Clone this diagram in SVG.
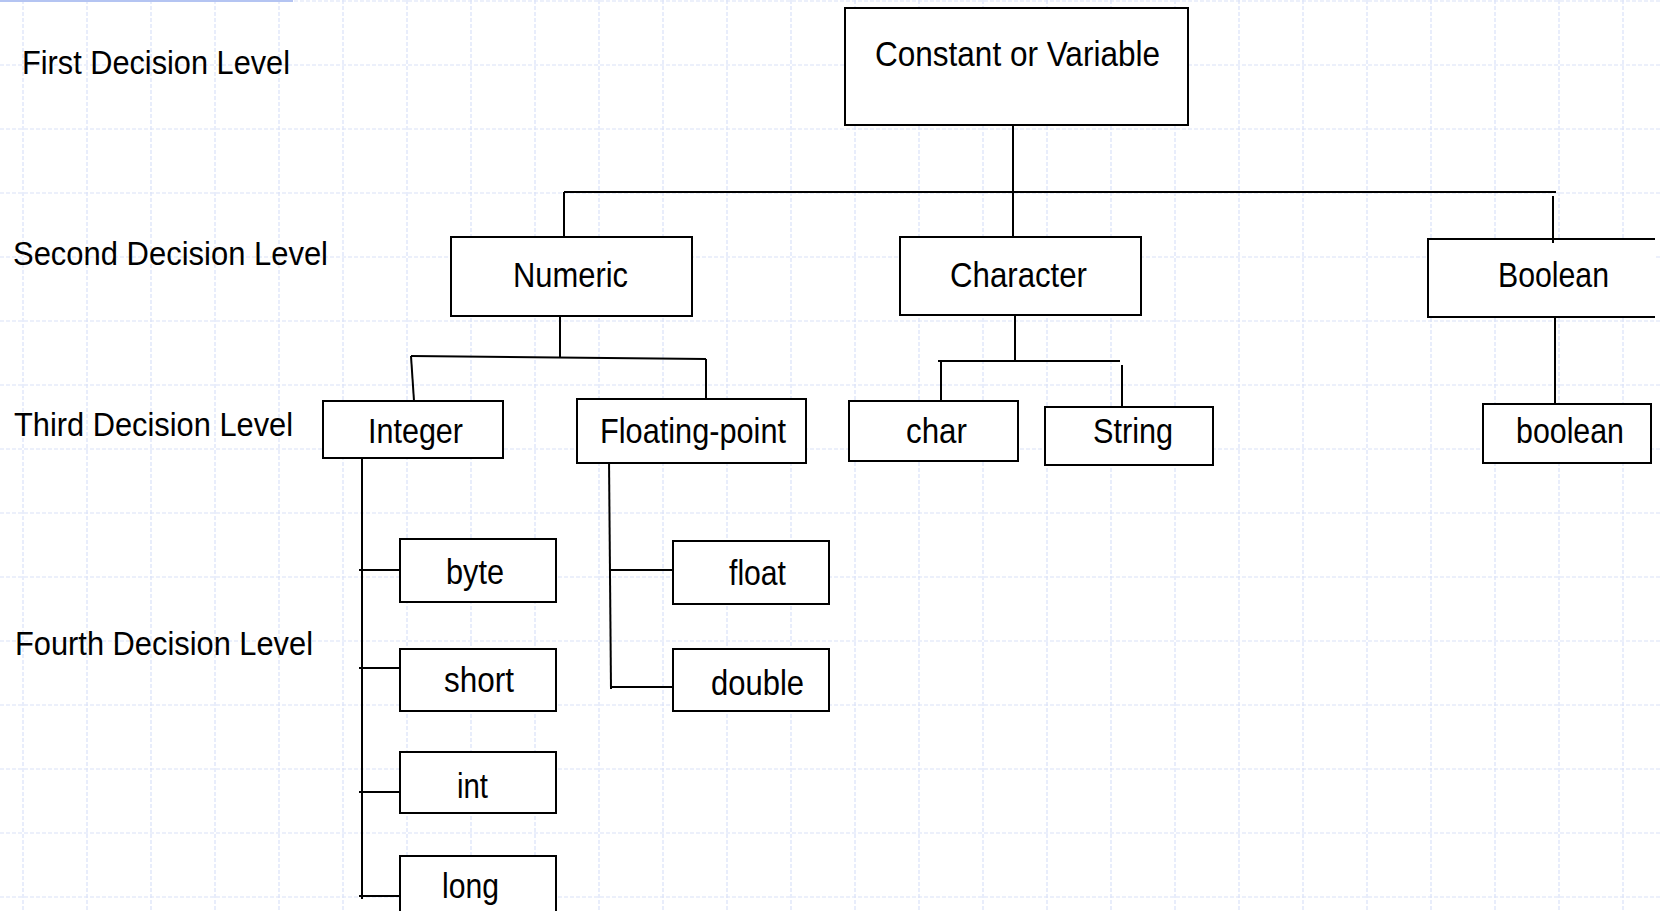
<svg xmlns="http://www.w3.org/2000/svg" width="1660" height="911" viewBox="0 0 1660 911">
<style>
.grid line{stroke:#d9e1f8;stroke-width:1.2;stroke-dasharray:4 2;fill:none}
.box{fill:#ffffff;stroke:#000000;stroke-width:2}
.conn line{stroke:#000000;stroke-width:2;fill:none}
.nt{font-family:"Liberation Sans",Arial,sans-serif;font-size:35px;fill:#000000}
.lt{font-family:"Liberation Sans",Arial,sans-serif;font-size:33px;fill:#000000}
</style>
<rect x="0" y="0" width="1660" height="911" fill="#ffffff"/>
<g class="grid">
<line x1="23" y1="0" x2="23" y2="911"/><line x1="87" y1="0" x2="87" y2="911"/><line x1="151" y1="0" x2="151" y2="911"/><line x1="215" y1="0" x2="215" y2="911"/><line x1="279" y1="0" x2="279" y2="911"/><line x1="343" y1="0" x2="343" y2="911"/><line x1="407" y1="0" x2="407" y2="911"/><line x1="471" y1="0" x2="471" y2="911"/><line x1="535" y1="0" x2="535" y2="911"/><line x1="599" y1="0" x2="599" y2="911"/><line x1="663" y1="0" x2="663" y2="911"/><line x1="727" y1="0" x2="727" y2="911"/><line x1="791" y1="0" x2="791" y2="911"/><line x1="855" y1="0" x2="855" y2="911"/><line x1="919" y1="0" x2="919" y2="911"/><line x1="983" y1="0" x2="983" y2="911"/><line x1="1047" y1="0" x2="1047" y2="911"/><line x1="1111" y1="0" x2="1111" y2="911"/><line x1="1175" y1="0" x2="1175" y2="911"/><line x1="1239" y1="0" x2="1239" y2="911"/><line x1="1303" y1="0" x2="1303" y2="911"/><line x1="1367" y1="0" x2="1367" y2="911"/><line x1="1431" y1="0" x2="1431" y2="911"/><line x1="1495" y1="0" x2="1495" y2="911"/><line x1="1559" y1="0" x2="1559" y2="911"/><line x1="1623" y1="0" x2="1623" y2="911"/>
<line x1="0" y1="1" x2="1660" y2="1"/><line x1="0" y1="65" x2="1660" y2="65"/><line x1="0" y1="129" x2="1660" y2="129"/><line x1="0" y1="193" x2="1660" y2="193"/><line x1="0" y1="257" x2="1660" y2="257"/><line x1="0" y1="321" x2="1660" y2="321"/><line x1="0" y1="385" x2="1660" y2="385"/><line x1="0" y1="449" x2="1660" y2="449"/><line x1="0" y1="513" x2="1660" y2="513"/><line x1="0" y1="577" x2="1660" y2="577"/><line x1="0" y1="641" x2="1660" y2="641"/><line x1="0" y1="705" x2="1660" y2="705"/><line x1="0" y1="769" x2="1660" y2="769"/><line x1="0" y1="833" x2="1660" y2="833"/><line x1="0" y1="897" x2="1660" y2="897"/>
</g>
<line x1="0" y1="1" x2="293" y2="1" stroke="#b4c4f2" stroke-width="2"/>

<g id="levels">
<text class="lt" x="22" y="74" textLength="268" lengthAdjust="spacingAndGlyphs">First Decision Level</text>
<text class="lt" x="13" y="265" textLength="315" lengthAdjust="spacingAndGlyphs">Second Decision Level</text>
<text class="lt" x="14" y="436" textLength="279" lengthAdjust="spacingAndGlyphs">Third Decision Level</text>
<text class="lt" x="15" y="655" textLength="298" lengthAdjust="spacingAndGlyphs">Fourth Decision Level</text>
</g>

<g class="conn" id="connectors">
<line x1="1013" y1="125" x2="1013" y2="192"/>
<line x1="564" y1="192" x2="1556" y2="192"/>
<line x1="564" y1="192" x2="564" y2="237"/>
<line x1="1013" y1="192" x2="1013" y2="237"/>
<line x1="1553" y1="196" x2="1553" y2="242"/>
<line x1="560" y1="316" x2="560" y2="357"/>
<line x1="411" y1="356" x2="706" y2="359"/>
<line x1="411" y1="356" x2="414" y2="401"/>
<line x1="706" y1="359" x2="706" y2="404"/>
<line x1="362" y1="453" x2="362" y2="899"/>
<line x1="359" y1="570" x2="402" y2="570"/>
<line x1="359" y1="668" x2="400" y2="668"/>
<line x1="359" y1="792" x2="400" y2="792"/>
<line x1="359" y1="896" x2="400" y2="896"/>
<line x1="609" y1="459" x2="611" y2="689"/>
<line x1="609" y1="570" x2="673" y2="570"/>
<line x1="611" y1="687" x2="673" y2="687"/>
<line x1="1015" y1="315" x2="1015" y2="361"/>
<line x1="938" y1="361" x2="1120" y2="361"/>
<line x1="941" y1="361" x2="941" y2="407"/>
<line x1="1122" y1="365" x2="1122" y2="408"/>
<line x1="1555" y1="315" x2="1555" y2="408"/>
</g>

<g id="node-constant">
<rect class="box" x="845" y="8" width="343" height="117"/>
<text class="nt" x="875" y="66" textLength="285" lengthAdjust="spacingAndGlyphs">Constant or Variable</text>
</g>
<g id="node-numeric">
<rect class="box" x="451" y="237" width="241" height="79"/>
<text class="nt" x="513" y="287" textLength="115" lengthAdjust="spacingAndGlyphs">Numeric</text>
</g>
<g id="node-character">
<rect class="box" x="900" y="237" width="241" height="78"/>
<text class="nt" x="950" y="287" textLength="137" lengthAdjust="spacingAndGlyphs">Character</text>
</g>
<g id="node-boolean-cat">
<path class="box" d="M1655,239 H1428 V317 H1655"/>
<line x1="1553" y1="239" x2="1553" y2="243" stroke="#000" stroke-width="2"/>
<text class="nt" x="1498" y="287" textLength="111" lengthAdjust="spacingAndGlyphs">Boolean</text>
</g>
<g id="node-integer">
<rect class="box" x="323" y="401" width="180" height="57"/>
<text class="nt" x="368" y="443" textLength="95" lengthAdjust="spacingAndGlyphs">Integer</text>
</g>
<g id="node-floating">
<rect class="box" x="577" y="399" width="229" height="64"/>
<text class="nt" x="600" y="443" textLength="186" lengthAdjust="spacingAndGlyphs">Floating-point</text>
</g>
<g id="node-char">
<rect class="box" x="849" y="401" width="169" height="60"/>
<text class="nt" x="906" y="443" textLength="61" lengthAdjust="spacingAndGlyphs">char</text>
</g>
<g id="node-string">
<rect class="box" x="1045" y="407" width="168" height="58"/>
<text class="nt" x="1093" y="443" textLength="80" lengthAdjust="spacingAndGlyphs">String</text>
</g>
<g id="node-boolean">
<rect class="box" x="1483" y="404" width="168" height="59"/>
<text class="nt" x="1516" y="443" textLength="108" lengthAdjust="spacingAndGlyphs">boolean</text>
</g>
<g id="node-byte">
<rect class="box" x="400" y="539" width="156" height="63"/>
<text class="nt" x="446" y="584" textLength="58" lengthAdjust="spacingAndGlyphs">byte</text>
</g>
<g id="node-float">
<rect class="box" x="673" y="541" width="156" height="63"/>
<text class="nt" x="729" y="585" textLength="57" lengthAdjust="spacingAndGlyphs">float</text>
</g>
<g id="node-short">
<rect class="box" x="400" y="649" width="156" height="62"/>
<text class="nt" x="444" y="692" textLength="70" lengthAdjust="spacingAndGlyphs">short</text>
</g>
<g id="node-double">
<rect class="box" x="673" y="649" width="156" height="62"/>
<text class="nt" x="711" y="695" textLength="93" lengthAdjust="spacingAndGlyphs">double</text>
</g>
<g id="node-int">
<rect class="box" x="400" y="752" width="156" height="61"/>
<text class="nt" x="457" y="798" textLength="31" lengthAdjust="spacingAndGlyphs">int</text>
</g>
<g id="node-long">
<rect class="box" x="400" y="856" width="156" height="70"/>
<text class="nt" x="442" y="898" textLength="57" lengthAdjust="spacingAndGlyphs">long</text>
</g>
</svg>
